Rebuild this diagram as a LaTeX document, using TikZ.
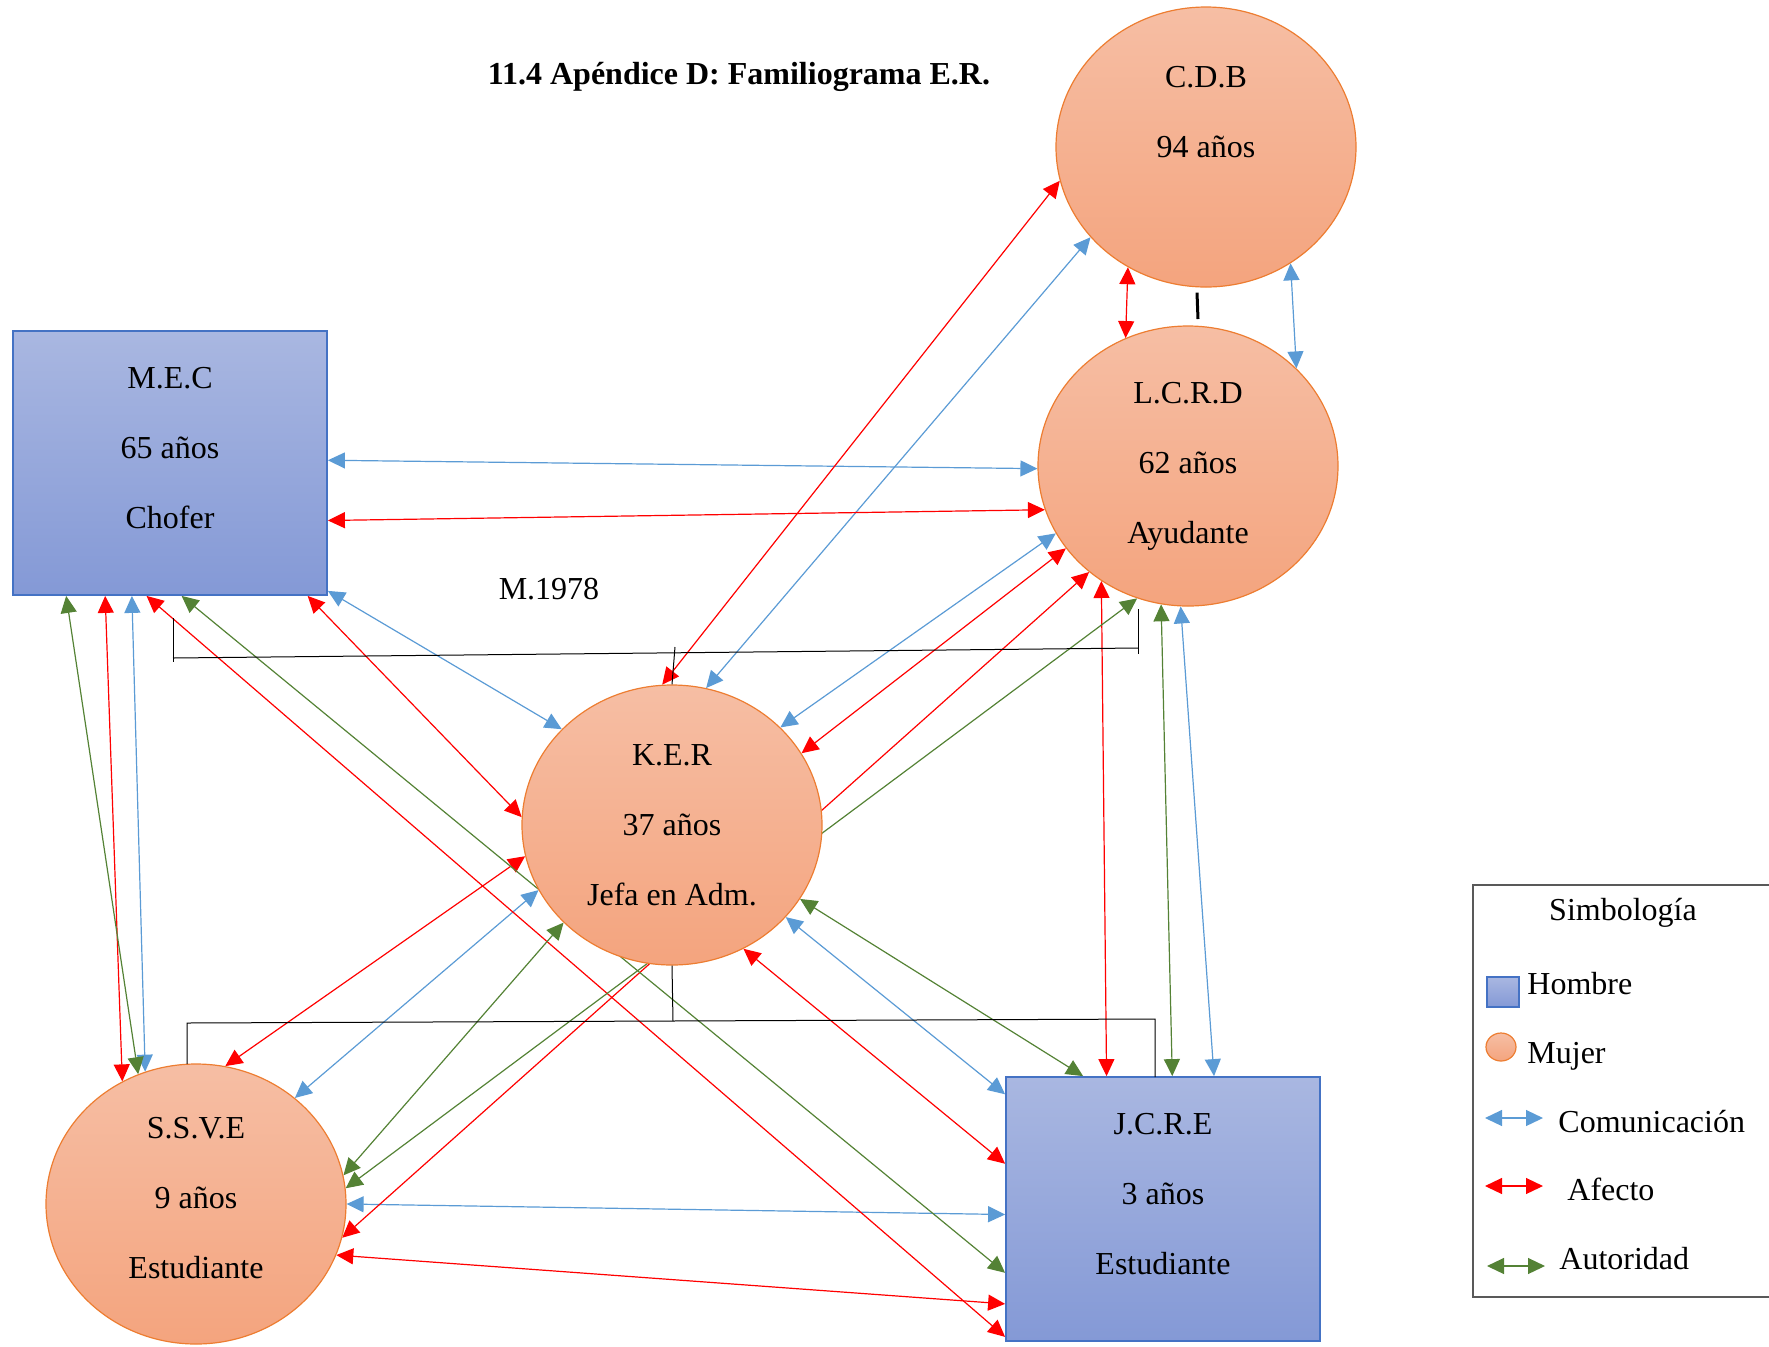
\documentclass[tikz,border=0pt]{standalone}
\usepackage{fontspec}
\setmainfont{Liberation Serif}
\usetikzlibrary{arrows.meta, shapes.geometric}
\definecolor{comblue}{HTML}{5B9BD5}
\definecolor{afred}{HTML}{FF0000}
\definecolor{autgreen}{HTML}{548235}
\definecolor{mujerline}{HTML}{ED7D31}
\definecolor{mujertop}{HTML}{F6BEA4}
\definecolor{mujerbot}{HTML}{F4A47E}
\definecolor{hombreline}{HTML}{4472C4}
\definecolor{hombretop}{HTML}{A9B7E1}
\definecolor{hombrebot}{HTML}{8499D6}
\definecolor{legendgray}{HTML}{595959}
\newcommand{\famtxt}{\fontsize{16}{35}\selectfont}
\pgfdeclarelayer{bg}
\pgfsetlayers{bg,main}
\tikzset{
  mujer/.style = {ellipse, draw=mujerline, line width=0.6pt, top color=mujertop, bottom color=mujerbot,
    minimum width=150pt, minimum height=140pt, inner sep=0pt, align=center, font=\famtxt},
  hombre/.style = {rectangle, draw=hombreline, line width=0.9pt, top color=hombretop, bottom color=hombrebot,
    minimum width=157pt, minimum height=132pt, inner sep=0pt, align=center, font=\famtxt, text depth=15pt},
  tip/.style = {{Triangle[length=8.5pt,width=8pt]}-{Triangle[length=8.5pt,width=8pt]}},
  comu/.style = {tip, draw=comblue, line width=0.6pt},
  afec/.style = {tip, draw=afred, line width=0.6pt},
  auto/.style = {tip, draw=autgreen, line width=0.6pt},
  union/.style = {draw=black, line width=0.5pt},
  simbtxt/.style = {font=\famtxt, anchor=base west, inner sep=0pt}
}

\begin{document}
\begin{tikzpicture}[x=0.5pt, y=-0.5pt]
\useasboundingbox (0,0) rectangle (1769,1346);
\node [font=\fontsize{16}{19}\selectfont\bfseries] (title) at (739,77) {11.4 Apéndice D: Familiograma E.R.};
\node [mujer] (cdb) at (1206,147) {C.D.B\\94 años\\ };
\node [mujer] (lcrd) at (1188,466) {L.C.R.D\\62 años\\Ayudante};
\node [hombre] (mec) at (170,463) {M.E.C\\65 años\\Chofer};
\node [mujer] (ker) at (672,825) {K.E.R\\37 años\\Jefa en Adm.};
\node [mujer, text depth=6pt] (ssve) at (196,1204) {S.S.V.E\\9 años\\Estudiante};
\node [hombre] (jcre) at (1163,1209) {J.C.R.E\\3 años\\Estudiante};
\node [font=\famtxt] (anio) at (549,589) {M.1978};

\begin{pgfonlayer}{bg}
\draw [comu] (cdb.218.9) -- (ker.76);
\draw [comu] (cdb.-54.3) -- (lcrd.42.1);
\draw [comu] (mec.1.4) -- (lcrd.181.1);
\draw [comu] (mec.-39) -- (ker.139.5);
\draw [comu] (mec.-106.1) -- (ssve.111);
\draw [comu] (lcrd.207.9) -- (ker.42.9);
\draw [comu] (lcrd.267.8) -- (jcre.69);
\draw [comu] (ker.206) -- (ssve.47.2);
\draw [comu] (ker.-39.3) -- (jcre.144.8);
\draw [comu] (ssve.0.7) -- (jcre.182.7);

\draw [afec] (cdb.193.9) -- (ker.94.6);
\draw [afec] (cdb.237.1) -- (lcrd.116.7);
\draw [afec] (mec.-20.4) -- (lcrd.197.3);
\draw [afec] (mec.-44) -- (ker.177);
\draw [afec] (mec.-116.7) -- (ssve.121.2);
\draw [afec] (mec.-100) -- (jcre.219.5);
\draw [afec] (lcrd.214) -- (ker.29.4);
\draw [afec] (lcrd.227.6) -- (ssve.-13.9);
\draw [afec] (lcrd.233.8) -- (jcre.113.5);
\draw [afec] (ker.192) -- (ssve.78.7);
\draw [afec] (ker.-60.2) -- (jcre.164.3);
\draw [afec] (ssve.-20.1) -- (jcre.211.2);

\draw [auto] (mec.-128) -- (ssve.114);
\draw [auto] (mec.-85) -- (jcre.202);
\draw [auto] (lcrd.249.3) -- (ssve.6.6);
\draw [auto] (lcrd.259.1) -- (jcre.86.3);
\draw [auto] (ker.222.3) -- (ssve.11.8);
\draw [auto] (ker.-30.1) -- (jcre.121.4);
\end{pgfonlayer}

% uniones
\coordinate (u1a) at (173,618);
\coordinate (u1b) at (173,658);
\coordinate (u1c) at (1138,648);
\coordinate (u1d) at (1138,609);
\coordinate (h1) at (675,647);
\coordinate (h2) at (673,1021);
\coordinate (u2a) at (187,1064);
\coordinate (u2b) at (187,1023);
\coordinate (u2c) at (1155,1019);
\coordinate (u2d) at (1155,1077);
\draw [union] (u1a) -- (173,662);
\draw [union] (u1b) -- (u1c);
\draw [union] (u1d) -- (1138,654);
\draw [union] (h1) -- (ker.north);
\draw [union] (ker.south) -- (h2);
\draw [union] (u2a) -- (u2b) -- (u2c) -- (u2d);
\draw [line width=1.5pt] (cdb.south) ++(-9,5) coordinate (v1) -- (1198,319);

% simbologia
\draw [draw=legendgray, line width=1pt] (1473,885) rectangle (1790,1297);
\node [font=\famtxt] (simb) at (1623,913) {Simbología};
\node [hombre, minimum width=16pt, minimum height=15pt, line width=0.6pt, text depth=0pt] (hsym) at (1503,992) {};
\node [mujer, minimum width=15pt, minimum height=14pt] (msym) at (1501,1047) {};
\node [simbtxt] (htxt) at (1527,994) {Hombre};
\node [simbtxt] (mtxt) at (1527,1063) {Mujer};
\coordinate (c1) at (1485,1118);
\coordinate (c2) at (1543,1118);
\coordinate (a1) at (1485,1186);
\coordinate (a2) at (1543,1186);
\coordinate (t1) at (1487,1266);
\coordinate (t2) at (1545,1266);
\draw [comu] (c1) -- (c2);
\draw [afec] (a1) -- (a2);
\draw [auto] (t1) -- (t2);
\node [simbtxt] (ctxt) at (1558,1132) {Comunicación};
\node [simbtxt] (atxt) at (1567,1200) {Afecto};
\node [simbtxt] (ttxt) at (1559,1269) {Autoridad};
\end{tikzpicture}
\end{document}
